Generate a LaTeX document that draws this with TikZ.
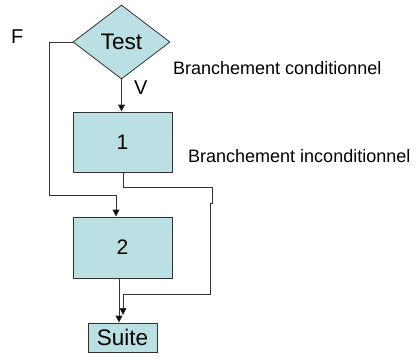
\documentclass[tikz,border=0pt]{standalone}
\usepackage{fontspec}
\setmainfont{Liberation Sans}
\usetikzlibrary{shapes.geometric,arrows.meta}
\definecolor{boxfill}{RGB}{187,224,227}
\definecolor{edge}{RGB}{50,50,50}
\begin{document}
\begin{tikzpicture}[x=1pt,y=-1pt,
  shapebox/.style={draw=edge,fill=boxfill,line width=0.8pt,inner sep=0pt},
  conn/.style={draw=edge,line width=0.8pt},
  arr/.style={conn,-{Triangle[length=7pt,width=7pt,fill=black]}},
  lbl/.style={inner sep=0pt,anchor=west}]
\useasboundingbox (0,0) rectangle (419,362);
\node[shapebox,diamond,minimum width=97pt,minimum height=74pt,font=\fontsize{22.5}{24}\selectfont] (test) at (121.5,42) {Test};
\node[shapebox,rectangle,minimum width=99pt,minimum height=60pt,font=\fontsize{21}{23}\selectfont] (b1) at (122.5,142) {1};
\node[shapebox,rectangle,minimum width=99pt,minimum height=61pt,font=\fontsize{21}{23}\selectfont] (b2) at (122.5,247.5) {2};
\node[shapebox,rectangle,minimum width=69pt,minimum height=29pt,font=\fontsize{22.5}{24}\selectfont] (suite) at (122.5,337.5) {Suite};
\node[lbl,font=\fontsize{20}{22}\selectfont] (F) at (11,37) {F};
\node[lbl,font=\fontsize{20}{22}\selectfont] (V) at (134,88) {V};
\node[lbl,font=\fontsize{18}{20}\selectfont] (lc) at (173,68) {Branchement conditionnel};
\node[lbl,font=\fontsize{18}{20}\selectfont] (li) at (188,156) {Branchement inconditionnel};
\coordinate (f1) at (49,42);
\coordinate (f2) at (49,195);
\coordinate (f3) at (116,195);
\coordinate (u1) at (123,187);
\coordinate (u2) at (212,187);
\coordinate (u3) at (212,203);
\coordinate (u4) at (210,203);
\coordinate (u5) at (210,294);
\coordinate (u6) at (123,294);
\coordinate (u7) at (123,315);
\draw[arr] (test.south) -- (b1.north -| test.south);
\draw[arr] (test.west) -- (f1) -- (f2) -- (f3) -- (b2.north -| f3);
\draw[conn] (b1.south -| u1) -- (u1) -- (u2) -- (u3) -- (u4) -- (u5) -- (u6);
\draw[arr] (u6) -- (u7);
\draw[arr] (b2.south -| 119,0) -- (suite.north -| 119,0);
\end{tikzpicture}
\end{document}
